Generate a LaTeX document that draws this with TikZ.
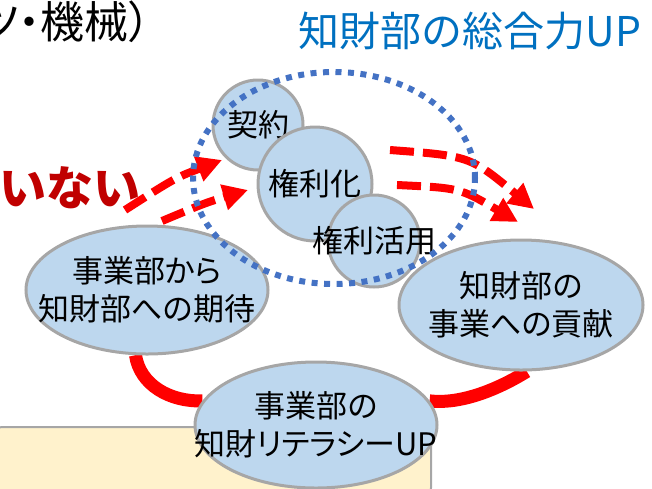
\documentclass[tikz,border=0pt]{standalone}
\usepackage{fontspec}
\setmainfont{Noto Sans CJK JP}
\newfontfamily\jpp[RawFeature=+palt]{Noto Sans CJK JP}
\usetikzlibrary{shapes.geometric,arrows.meta}
\pgfdeclarelayer{bg}
\pgfsetlayers{bg,main}
\definecolor{bubfill}{HTML}{BDD7EE}
\definecolor{bubline}{HTML}{A6A6A6}
\definecolor{ringred}{HTML}{FF0000}
\definecolor{darkred}{HTML}{C00000}
\definecolor{titleblue}{HTML}{0070C0}
\definecolor{dotblue}{HTML}{4472C4}
\definecolor{beige}{HTML}{FFF2CC}
\tikzset{
  bub/.style={circle, draw=bubline, fill=bubfill, line width=3pt, inner sep=0pt},
  ell/.style={ellipse, draw=bubline, fill=bubfill, line width=3pt, inner sep=0pt},
  lbl/.style={inner sep=0pt, align=center, text=black, font=\jpp\fontsize{31}{38}\selectfont},
  clbl/.style={inner sep=0pt, text=black, font=\jpp\fontsize{31}{38}\selectfont},
  ring/.style={draw=ringred, line width=13pt},
  redarrow/.style={draw=ringred, line width=8pt, dash pattern=on 24pt off 9pt,
    -{Triangle[length=25pt,width=25pt]}},
  dotring/.style={ellipse, draw=dotblue, line width=6pt, dash pattern=on 6pt off 6.5pt, inner sep=0pt}
}
\begin{document}
\begin{tikzpicture}[x=1pt,y=-1pt]
\useasboundingbox (0,0) rectangle (652,488);
% titles
\node[inner sep=0pt, anchor=east, font=\jpp\fontsize{44}{48}\selectfont] (tl) at (151,22) {ツ・機械）};
\node[inner sep=0pt, text=titleblue, font=\fontsize{41}{44}\selectfont] (title) at (470,31) {知財部の総合力UP};
\node[inner sep=0pt, anchor=east, text=darkred, font=\bfseries\fontsize{47}{50}\selectfont] (inai) at (141,188) {いない};
% ellipse shapes
\node[ell, minimum width=242pt, minimum height=128pt] (A) at (147,290) {};
\node[ell, minimum width=244pt, minimum height=130pt] (B) at (521,305) {};
\node[ell, minimum width=242pt, minimum height=126pt] (C) at (316,425) {};
\node[lbl] at (A) {事業部から\\知財部への期待};
\node[lbl] at (B) {知財部の\\事業への貢献};
\node[lbl] at (C) {事業部の\\知財リテラシーUP};
% background: beige box and red ring
\begin{pgfonlayer}{bg}
\draw[draw=bubline, fill=beige, line width=2pt, rounded corners=12pt] (-10,427) rectangle (431,500);
\draw[ring] (A.-100) .. controls (140,385) and (170,402) .. (C.168);
\draw[ring] (C.12) .. controls (465,405) and (505,385) .. (B.-85);
\end{pgfonlayer}
% small circles
\node[bub, minimum size=90pt] (K) at (258,125) {};
\node[clbl] at (K) {契約};
\node[bub, minimum size=114pt] (H) at (315,184) {};
\node[clbl] at (H) {権利化};
\node[bub, minimum size=92pt] (U) at (374,241) {};
\node[clbl] at (U) {権利活用};
% red dashed arrows
\coordinate (l1s) at (125,210);
\coordinate (l1e) at (222,160);
\coordinate (l2s) at (162,221);
\coordinate (l2e) at (248,190);
\coordinate (r1s) at (390,150);
\coordinate (r1e) at (534,209);
\coordinate (r2s) at (397,185);
\coordinate (r2e) at (518,222);
\draw[redarrow] (l1s) .. controls (175,178) .. (l1e);
\draw[redarrow] (l2s) .. controls (205,203) .. (l2e);
\draw[redarrow] (r1s) .. controls (470,156) .. (r1e);
\draw[redarrow] (r2s) .. controls (460,188) .. (r2e);
% dotted ring
\node[dotring, minimum width=282pt, minimum height=212pt] (D) at (334,178) {};
\end{tikzpicture}
\end{document}
